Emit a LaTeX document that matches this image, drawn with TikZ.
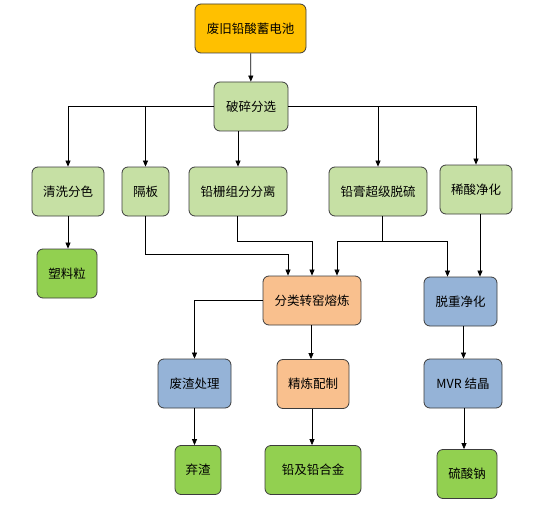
\documentclass[tikz,border=0pt]{standalone}
\usepackage{fontspec}
\setmainfont{Noto Sans CJK SC}
\definecolor{batorange}{RGB}{255, 192, 0}
\definecolor{stepgreen}{RGB}{198, 224, 164}
\definecolor{prodgreen}{RGB}{146, 208, 80}
\definecolor{meltpeach}{RGB}{249, 192, 142}
\definecolor{cleanblue}{RGB}{149, 179, 215}
\definecolor{rimgray}{RGB}{60, 60, 60}
\usetikzlibrary{arrows.meta, positioning}

\begin{document}
\begin{tikzpicture}[x=1pt, y=-1pt,
  box/.style={rectangle, rounded corners=6pt, draw=rimgray, line width=0.8pt, minimum height=49pt, inner sep=2pt, font=\fontsize{12.5}{14}\selectfont},
  arr/.style={-{Triangle[length=6pt, width=5pt]}, line width=0.7pt, black}]
\useasboundingbox (0,0) rectangle (554,508);
% source and first split
\node[box, fill=batorange, minimum width=111pt] (battery) at (250.5,28.5) {废旧铅酸蓄电池};
\node[box, fill=stepgreen, minimum width=74pt] (crush) at (251,106.5) {破碎分选};
% separated streams
\node[box, fill=stepgreen, minimum width=72pt] (wash) at (68,191.5) {清洗分色};
\node[box, fill=stepgreen, minimum width=47pt] (plate) at (145.5,191.5) {隔板};
\node[box, fill=stepgreen, minimum width=98pt] (grid) at (238,191.5) {铅栅组分分离};
\node[box, fill=stepgreen, minimum width=98pt] (paste) at (378,191.5) {铅膏超级脱硫};
\node[box, fill=stepgreen, minimum width=72pt] (acid) at (476,189.5) {稀酸净化};
\node[box, fill=prodgreen, minimum width=60pt] (plastic) at (67,273.5) {塑料粒};
% smelting and purification
\node[box, fill=meltpeach, minimum width=98pt] (smelt) at (312,300.5) {分类转窑熔炼};
\node[box, fill=cleanblue, minimum width=73pt] (dehm) at (460.5,301.5) {脱重净化};
\node[box, fill=cleanblue, minimum width=73pt] (slag) at (194.5,383.5) {废渣处理};
\node[box, fill=meltpeach, minimum width=72pt] (refine) at (313,384) {精炼配制};
\node[box, fill=cleanblue, minimum width=78pt] (mvr) at (463,383.5) {MVR 结晶};
% end products
\node[box, fill=prodgreen, minimum width=46pt] (discard) at (198,470) {弃渣};
\node[box, fill=prodgreen, minimum width=96pt] (alloy) at (313,470) {铅及铅合金};
\node[box, fill=prodgreen, minimum width=60pt] (sulfate) at (467,474) {硫酸钠};

\draw[arr] (battery) -- (crush);
\draw[arr] (crush.west) -| (wash.north);
\draw[arr] (crush.west) -| (plate.north);
\draw[arr] (grid.north |- crush.south) -- (grid.north);
\draw[arr] (crush.east) -| (paste.north);
\draw[arr] (crush.east) -| (acid.north);
\draw[arr] (wash.south) -- (wash.south |- plastic.north);
\draw[arr] (plate.south) -- ++(0,38) -| ([xshift=-24pt]smelt.north);
\draw[arr] ([xshift=-1pt]grid.south) -- ++(0,25) -| (smelt.north);
\draw[arr] ([xshift=4pt]paste.south) -- ++(0,25) -| ([xshift=25pt]smelt.north);
\draw[arr] ([xshift=4pt]paste.south) -- ++(0,25) -| ([xshift=-13pt]dehm.north);
\draw[arr] ([xshift=4pt]acid.south) -- ([xshift=4pt]acid.south |- dehm.north);
\draw[arr] (smelt.west) -| (slag.north);
\draw[arr] ([xshift=-1pt]smelt.south) -- ([xshift=-1pt]smelt.south |- refine.north);
\draw[arr] ([xshift=3pt]dehm.south) -- ([xshift=3pt]dehm.south |- mvr.north);
\draw[arr] (slag.south) -- (slag.south |- discard.north);
\draw[arr] ([xshift=-1pt]refine.south) -- ([xshift=-1pt]refine.south |- alloy.north);
\draw[arr] ([xshift=1pt]mvr.south) -- ([xshift=1pt]mvr.south |- sulfate.north);
\end{tikzpicture}
\end{document}
